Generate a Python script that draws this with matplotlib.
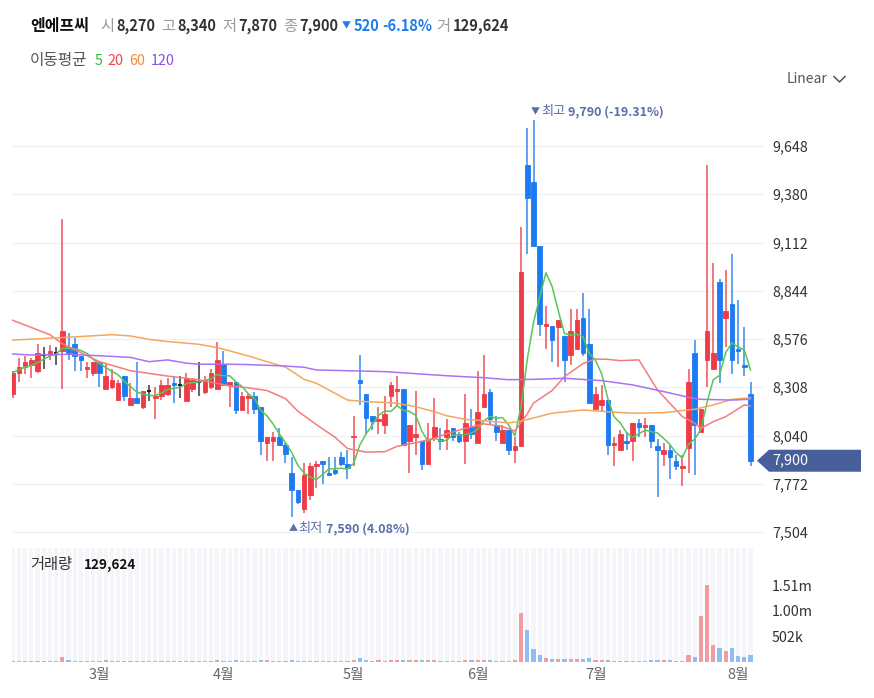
import numpy as np
import matplotlib
matplotlib.use("Agg")
import matplotlib.pyplot as plt
from matplotlib.patches import Rectangle, Polygon
from matplotlib.lines import Line2D
import pandas as pd

plt.rcParams['font.family'] = ['Noto Sans CJK KR', 'DejaVu Sans']

name = '엔에프씨'
opens = [8270, 8390, 8420, 8430, 8400, 8490, 8490, 8500, 8510, 8530,
         8550, 8480, 8410, 8390, 8450, 8300, 8310, 8240, 8370, 8210,
         8250, 8200, 8290, 8250, 8260, 8270, 8330, 8320, 8230, 8300,
         8340, 8280, 8310, 8300, 8440, 8320, 8340, 8180, 8250, 8260,
         8200, 8000, 8010, 8030, 7990, 7830, 7740, 7630, 7710, 7870,
         7900, 7830, 7850, 7920, 7880, 8030, 8350, 8270, 8150, 8120,
         8100, 8260, 8290, 8300, 8010, 8030, 8010, 7880, 8030, 8020,
         8030, 8080, 8050, 8010, 8090, 8000, 8200, 8280, 8100, 8000,
         8070, 7960, 7980, 9540, 9450, 9090, 8650, 8650, 8640, 8590,
         8490, 8520, 8690, 8550, 8190, 8210, 8240, 7990, 7960, 8010,
         8010, 8110, 8090, 8100, 7980, 7940, 7960, 7900, 7860, 7970,
         8500, 8060, 8460, 8410, 8890, 8690, 8770, 8520, 8430, 8270]
highs = [8400, 8470, 8480, 8470, 8550, 8530, 8540, 8530, 9240, 8610,
         8580, 8480, 8450, 8450, 8450, 8440, 8410, 8350, 8370, 8330,
         8450, 8290, 8320, 8310, 8350, 8360, 8370, 8370, 8390, 8360,
         8450, 8370, 8410, 8560, 8510, 8340, 8340, 8280, 8270, 8280,
         8200, 8030, 8060, 8080, 8000, 7920, 7740, 7890, 7890, 7900,
         7900, 7920, 7920, 7950, 7960, 8150, 8490, 8270, 8150, 8200,
         8260, 8340, 8370, 8300, 8100, 8290, 8010, 8110, 8250, 8080,
         8130, 8080, 8060, 8270, 8190, 8400, 8490, 8300, 8150, 8100,
         8070, 8030, 9200, 9750, 9790, 9090, 8760, 8650, 8680, 8590,
         8740, 8740, 8830, 8740, 8310, 8320, 8240, 8030, 8070, 8060,
         8110, 8130, 8140, 8100, 8020, 8000, 7990, 7930, 7930, 8410,
         8570, 8190, 9540, 9000, 8910, 8960, 9050, 8790, 8640, 8340]
lows = [8250, 8340, 8380, 8360, 8390, 8410, 8460, 8430, 8300, 8460,
        8400, 8400, 8360, 8370, 8310, 8300, 8300, 8230, 8230, 8210,
        8220, 8190, 8230, 8130, 8240, 8260, 8220, 8250, 8230, 8280,
        8260, 8270, 8300, 8300, 8320, 8200, 8160, 8180, 8160, 8160,
        7930, 7900, 7900, 7990, 7890, 7590, 7660, 7610, 7680, 7750,
        7770, 7820, 7820, 7870, 7800, 7870, 8210, 8050, 8070, 8050,
        8050, 8200, 8200, 7990, 7830, 7930, 7850, 7880, 8010, 7960,
        7960, 8010, 8000, 7880, 8020, 8000, 8200, 8100, 8010, 8000,
        7930, 7890, 7980, 9050, 9090, 8590, 8520, 8450, 8420, 8340,
        8430, 8520, 8480, 8220, 8190, 8170, 7930, 7870, 7960, 7960,
        7900, 8030, 8030, 7970, 7700, 7870, 7800, 7850, 7760, 7830,
        7820, 8060, 8310, 8410, 8330, 8530, 8380, 8440, 8370, 7870]
closes = [8390, 8420, 8450, 8460, 8500, 8490, 8510, 8500, 8620, 8500,
          8480, 8460, 8420, 8450, 8390, 8370, 8350, 8330, 8260, 8250,
          8220, 8290, 8290, 8260, 8320, 8320, 8320, 8320, 8360, 8350,
          8340, 8350, 8390, 8460, 8320, 8340, 8180, 8260, 8260, 8190,
          8010, 8030, 8030, 7990, 7940, 7740, 7670, 7820, 7870, 7880,
          7880, 7820, 7830, 7880, 7860, 8040, 8330, 8140, 8120, 8130,
          8160, 8320, 8300, 7990, 8100, 8050, 7880, 8020, 8090, 8010,
          8070, 8030, 8010, 8110, 8050, 8170, 8270, 8130, 8060, 8070,
          7960, 7980, 8950, 9360, 9090, 8660, 8660, 8570, 8680, 8460,
          8620, 8680, 8500, 8220, 8270, 8240, 7990, 8000, 8050, 8000,
          8110, 8090, 8100, 8010, 7960, 7960, 7920, 7870, 7870, 8340,
          8100, 8190, 8620, 8500, 8460, 8730, 8460, 8510, 8420, 7900]
volumes = [1500, 1500, 1500, 1500, 1500, 1500, 1500, 1500, 86000, 20000,
           1500, 1500, 1500, 1500, 1500, 20000, 1500, 1500, 1500, 1500,
           1500, 1500, 1500, 1500, 1500, 1500, 1500, 1500, 1500, 1500,
           1500, 1500, 1500, 20000, 1500, 1500, 20000, 1500, 1500, 1500,
           20000, 20000, 1500, 1500, 1500, 20000, 1500, 1500, 1500, 1500,
           1500, 1500, 1500, 1500, 1500, 25000, 60000, 20000, 1500, 20000,
           1500, 20000, 20000, 35000, 20000, 20000, 20000, 20000, 20000, 1500,
           1500, 1500, 1500, 35000, 20000, 35000, 20000, 20000, 1500, 1500,
           1500, 20000, 960000, 614000, 238000, 119000, 73000, 53000, 50000, 45000,
           45000, 45000, 40000, 60000, 25000, 25000, 30000, 1500, 1500, 1500,
           1500, 1500, 1500, 20000, 20000, 20000, 20000, 1500, 1500, 119000,
           86000, 904000, 1506000, 330000, 264000, 205000, 257000, 112000, 86000, 129624]

ma20_idx = [0, 6, 8, 11, 14, 19, 25, 30, 35, 38, 41, 44, 46, 49, 52, 54, 57, 60, 62, 65,
            68, 70, 73, 76, 79, 81, 83, 84, 87, 89, 92, 94, 96, 98, 101, 104, 106, 108,
            110, 111, 113, 115, 118, 119]
ma20_val = [8680, 8600, 8550, 8500, 8450, 8400, 8370, 8350, 8315, 8305, 8290, 8245, 8175,
            8100, 8030, 7968, 7948, 7950, 7980, 8000, 8025, 8050, 8080, 8105, 8090, 8065,
            8160, 8220, 8290, 8367, 8440, 8465, 8463, 8456, 8460, 8293, 8219, 8145, 8108,
            8080, 8117, 8145, 8210, 8204]
ma60_idx = [0, 9, 16, 19, 22, 25, 30, 33, 35, 38, 41, 44, 47, 49, 54, 57, 60, 62, 65, 68,
            70, 73, 76, 80, 82, 87, 92, 96, 100, 105, 110, 113, 116, 119]
ma60_val = [8570, 8586, 8600, 8593, 8574, 8562, 8547, 8528, 8510, 8482, 8450, 8420, 8352,
            8330, 8237, 8228, 8224, 8219, 8200, 8172, 8150, 8130, 8122, 8110, 8120, 8164,
            8182, 8172, 8164, 8167, 8186, 8210, 8241, 8250]
ma120_idx = [0, 3, 9, 14, 19, 22, 25, 28, 30, 35, 38, 44, 47, 49, 60, 70, 76, 80, 84, 89,
             95, 100, 105, 109, 111, 116, 119]
ma120_val = [8493, 8487, 8491, 8483, 8474, 8450, 8460, 8442, 8436, 8436, 8434, 8426, 8419,
             8404, 8395, 8372, 8361, 8350, 8352, 8358, 8345, 8321, 8284, 8252, 8241, 8237,
             8241]

month_pos = [14, 34, 55, 75, 94, 117]
month_labels = ['3월', '4월', '5월', '6월', '7월', '8월']
price_ticks = [7504, 7772, 8040, 8308, 8576, 8844, 9112, 9380, 9648]
vol_ticks = [502000, 1004000, 1506000]
vol_tick_labels = ['502k', '1.00m', '1.51m']

RED = '#ef3b45'
BLUE = '#1c7bf0'
DOJI = '#222222'
C_MA5 = '#56c756'
C_MA20 = '#f47c7c'
C_MA60 = '#f6a75e'
C_MA120 = '#ab72f3'
ANN = '#5a6ea8'

W, H = 874, 698
fig = plt.figure(figsize=(W / 100, H / 100), dpi=100)
fig.patch.set_facecolor('white')


def rect(x0, y0, x1, y1):
    return [x0 / W, 1 - y1 / H, (x1 - x0) / W, (y1 - y0) / H]


SP = 6.2
X0 = 12.7
n = len(closes)
idx = np.arange(n)

# ---------------- price pane ----------------
ax = fig.add_axes(rect(12, 90, 765, 545))
ax.set_xlim((12 - X0) / SP, (765 - X0) / SP)
ax.set_ylim(7432, 9959)
for s in ax.spines.values():
    s.set_visible(False)
ax.set_xticks([])
ax.yaxis.tick_right()
ax.set_yticks(price_ticks)
ax.set_yticklabels([f'{t:,}' for t in price_ticks])
ax.tick_params(axis='y', length=0, pad=5, labelsize=10.3, labelcolor='#333333')
ax.grid(axis='y', color='#f0f1f5', lw=1)
ax.set_axisbelow(True)

bw = 0.72
for i in idx:
    o, h, l, c = opens[i], highs[i], lows[i], closes[i]
    if c > o:
        col = RED
    elif c < o:
        col = BLUE
    else:
        col = DOJI
    ax.vlines(i, l, h, color=col, lw=1.4, alpha=0.7, zorder=2)
    if c == o:
        ax.hlines(c, i - bw / 2, i + bw / 2, color=col, lw=1.5, zorder=2)
    else:
        ax.add_patch(Rectangle((i - bw / 2, min(o, c)), bw, max(abs(c - o), 8),
                               facecolor=col, edgecolor=col, lw=0.6, zorder=2.1))

ma5 = pd.Series(closes).rolling(5, min_periods=1).mean()
ax.plot(idx, ma5, color=C_MA5, lw=1.1, zorder=3)
ax.plot(ma20_idx, ma20_val, color=C_MA20, lw=1.1, zorder=3)
ax.plot(ma60_idx, ma60_val, color=C_MA60, lw=1.1, zorder=3)
ax.plot(ma120_idx, ma120_val, color=C_MA120, lw=1.1, zorder=3)

# high / low annotations
imax = int(np.argmax(highs))
imin = int(np.argmin(lows))
last = closes[-1]
pmax = (last - highs[imax]) / highs[imax] * 100
pmin = (last - lows[imin]) / lows[imin] * 100
for txt, dx, fs, fw in [('▼', -3, 6.5, 'normal'), ('최고', 8, 9.5, 'normal'),
                        (f'{highs[imax]:,} ({pmax:.2f}%)', 35, 9, 'bold')]:
    ax.annotate(txt, xy=(imax, highs[imax]), xytext=(dx, 9), textcoords='offset pixels',
                ha='left', va='center', fontsize=fs, fontweight=fw, color=ANN)
for txt, dx, fs, fw in [('▲', -3, 6.5, 'normal'), ('최저', 7, 9.5, 'normal'),
                        (f'{lows[imin]:,} ({pmin:.2f}%)', 34, 9, 'bold')]:
    ax.annotate(txt, xy=(imin, lows[imin]), xytext=(dx, -12), textcoords='offset pixels',
                ha='left', va='center', fontsize=fs, fontweight=fw, color=ANN)

# last price tag
ylast = ax.transData.transform((0, last))[1]
tag = Polygon([(757, ylast), (769, ylast + 11), (861, ylast + 11), (861, ylast - 11),
               (769, ylast - 11)], closed=True, facecolor='#475f9b', edgecolor='none',
              transform=None, zorder=5)
fig.add_artist(tag)
fig.text(772 / W, ylast / H, f'{last:,}', ha='left', va='center', fontsize=10.3,
         color='white', zorder=6)

# ---------------- volume pane ----------------
axv = fig.add_axes(rect(12, 548, 755, 661.5))
axv.set_xlim((12 - X0) / SP, (755 - X0) / SP)
axv.set_ylim(0, 2.235e6)
axv.set_facecolor('#f3f5f9')
for s in axv.spines.values():
    s.set_visible(False)
axv.vlines(idx + 0.5, 0, 2.235e6, color='white', lw=1.3, zorder=0.5)
vcols = ['#f39ba0' if closes[i] >= opens[i] else '#8fbdf5' for i in idx]
axv.bar(idx, volumes, width=0.7, color=vcols, zorder=2)
axv.yaxis.tick_right()
axv.set_yticks(vol_ticks)
axv.set_yticklabels(vol_tick_labels)
axv.tick_params(axis='y', length=0, pad=12, labelsize=10.3, labelcolor='#333333')
axv.set_xticks(month_pos)
axv.set_xticklabels(month_labels)
axv.tick_params(axis='x', length=0, pad=5, labelsize=10.5, labelcolor='#666666')
axv.text(18 / 743, 1 - 17 / 113.5, '거래량', transform=axv.transAxes, ha='left',
         va='center', fontsize=11, color='#333333')
axv.text(72 / 743, 1 - 17 / 113.5, f'{volumes[-1]:,}', transform=axv.transAxes,
         ha='left', va='center', fontsize=9.7, fontweight='bold', color='#111111')

# ---------------- header ----------------
chg = closes[-1] - closes[-2]
pct = chg / closes[-2] * 100
yh = 1 - 26 / H
head = [
    (30, name, 'bold', '#111111', 11.5),
    (100, '시', 'normal', '#9a9a9a', 11),
    (116, f'{opens[-1]:,}', 'bold', '#333333', 10.5),
    (161, '고', 'normal', '#9a9a9a', 11),
    (177, f'{highs[-1]:,}', 'bold', '#333333', 10.5),
    (222, '저', 'normal', '#9a9a9a', 11),
    (238, f'{lows[-1]:,}', 'bold', '#333333', 10.5),
    (283, '종', 'normal', '#9a9a9a', 11),
    (299, f'{closes[-1]:,}', 'bold', '#333333', 10.5),
    (342, '▼', 'normal', '#1c7bf0', 6.5),
    (354, f'{abs(chg):,}', 'bold', '#1c7bf0', 10.5),
    (382, f'{pct:.2f}%', 'bold', '#1c7bf0', 10.5),
    (436, '거', 'normal', '#9a9a9a', 11),
    (453, f'{volumes[-1]:,}', 'bold', '#333333', 10.5),
]
for x, t, w, c, fs in head:
    fig.text(x / W, yh, t, ha='left', va='center', fontsize=fs, fontweight=w, color=c)

y2 = 1 - 61 / H
fig.text(30 / W, y2, '이동평균', ha='left', va='center', fontsize=11.3, color='#555555')
for x, t, c in [(95, '5', '#34b834'), (107, '20', '#f04452'), (129, '60', '#f5893a'),
                (151, '120', '#8b4cf0')]:
    fig.text(x / W, y2, t, ha='left', va='center', fontsize=10.3, color=c)

fig.text(787 / W, 1 - 79 / H, 'Linear', ha='left', va='center', fontsize=10, color='#555555')
fig.add_artist(Line2D([834 / W, 839.5 / W, 845 / W], [1 - 76.5 / H, 1 - 82 / H, 1 - 76.5 / H],
                      color='#555555', lw=1.1))

fig.savefig('out.png', dpi=100, facecolor='white')
